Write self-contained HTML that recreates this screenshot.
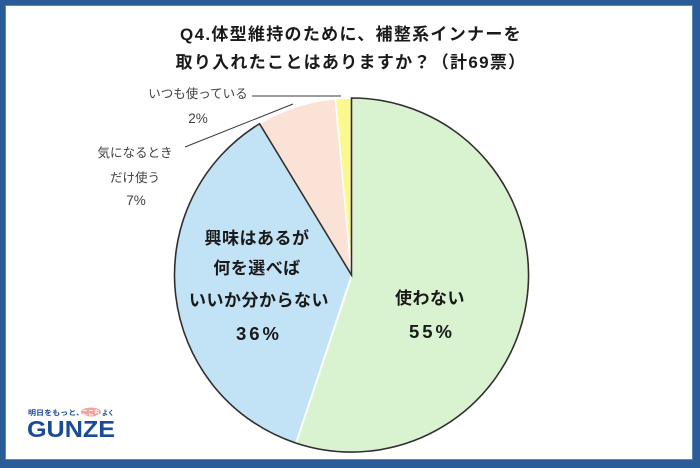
<!DOCTYPE html>
<html>
<head>
<meta charset="utf-8">
<style>
  html,body{margin:0;padding:0;background:#fff;}
  svg{display:block;}
  text{font-family:"Liberation Sans","Noto Sans CJK JP",sans-serif;}
</style>
</head>
<body>
<svg width="700" height="468" viewBox="0 0 700 468" xmlns="http://www.w3.org/2000/svg">
  <!-- frame -->
  <rect x="0" y="0" width="700" height="468" fill="#2b5c98"/>
  <rect x="5" y="5" width="688" height="455" fill="#5b86bd"/>
  <rect x="6" y="6" width="686" height="453" fill="#ffffff"/>

  <!-- title -->
  <text x="351" y="40" text-anchor="middle" font-size="17" font-weight="bold" fill="#1a1a1a" letter-spacing="1.3">Q4.体型維持のために、補整系インナーを</text>
  <text x="351" y="68" text-anchor="middle" font-size="17" font-weight="bold" fill="#1a1a1a" letter-spacing="1.3">取り入れたことはありますか？（計69票）</text>

  <!-- pie slices -->
  <g stroke="#ffffff" stroke-width="1.5" stroke-linejoin="round">
    <path d="M351.5,275 L351.5,98 A177,177 0 1,1 296.04,443.08 Z" fill="#d9f2d0"/>
    <path d="M351.5,275 L296.04,443.08 A177,177 0 0,1 259.55,123.75 Z" fill="#c2e3f5"/>
    <path d="M351.5,275 L259.55,123.75 A177,177 0 0,1 335.4,98.73 Z" fill="#fbe2d6"/>
    <path d="M351.5,275 L335.4,98.73 A177,177 0 0,1 351.5,98 Z" fill="#fbf98e"/>
  </g>
  <!-- dark outline -->
  <path d="M259.55,123.75 A177,177 0 0,0 296.04,443.08 A177,177 0 1,0 351.5,98 L351.5,275 Z" fill="none" stroke="#2f2f2f" stroke-width="1.6" stroke-linejoin="miter"/>
  <!-- white separator green/blue over dark -->
  <line x1="351.5" y1="277" x2="296.5" y2="441.5" stroke="#ffffff" stroke-width="1.5"/>

  <!-- leader lines -->
  <line x1="252" y1="96" x2="341" y2="96" stroke="#3a3a3a" stroke-width="1"/>
  <line x1="185" y1="147" x2="293" y2="104" stroke="#3a3a3a" stroke-width="1"/>

  <!-- outer labels -->
  <g font-size="12.5" fill="#404040">
    <text x="198" y="98" text-anchor="middle">いつも使っている</text>
    <text x="198" y="123" text-anchor="middle" font-size="13.5">2%</text>
    <text x="135" y="157" text-anchor="middle">気になるとき</text>
    <text x="135" y="182" text-anchor="middle">だけ使う</text>
    <text x="136" y="205" text-anchor="middle" font-size="13.5">7%</text>
  </g>

  <!-- inner labels -->
  <g font-size="17" font-weight="bold" fill="#1a1a1a">
    <text x="257" y="244" text-anchor="middle" letter-spacing="0.5">興味はあるが</text>
    <text x="257" y="274" text-anchor="middle" letter-spacing="0.5">何を選べば</text>
    <text x="259" y="306" text-anchor="middle" letter-spacing="0.5">いいか分からない</text>
    <text x="259" y="340" text-anchor="middle" font-size="18.5" letter-spacing="3">36%</text>
    <text x="430" y="304" text-anchor="middle" letter-spacing="0.5">使わない</text>
    <text x="432" y="338" text-anchor="middle" font-size="18.5" letter-spacing="3">55%</text>
  </g>

  <!-- logo -->
  <g>
    <text x="28" y="415" font-size="7" fill="#1b4a96" font-weight="bold" textLength="56" lengthAdjust="spacingAndGlyphs">明日をもっと、</text>
    <ellipse cx="91" cy="412" rx="10" ry="4.5" fill="#f2a3a0"/>
    <text x="82" y="415" font-size="7" fill="#ffffff" font-weight="bold" textLength="18" lengthAdjust="spacingAndGlyphs">ここち</text>
    <text x="102" y="415" font-size="7" fill="#1b4a96" font-weight="bold" textLength="12" lengthAdjust="spacingAndGlyphs">よく</text>
    <text x="27" y="437" font-size="23" font-weight="bold" fill="#1b4a96" textLength="88" lengthAdjust="spacingAndGlyphs">GUNZE</text>
  </g>
</svg>
</body>
</html>
